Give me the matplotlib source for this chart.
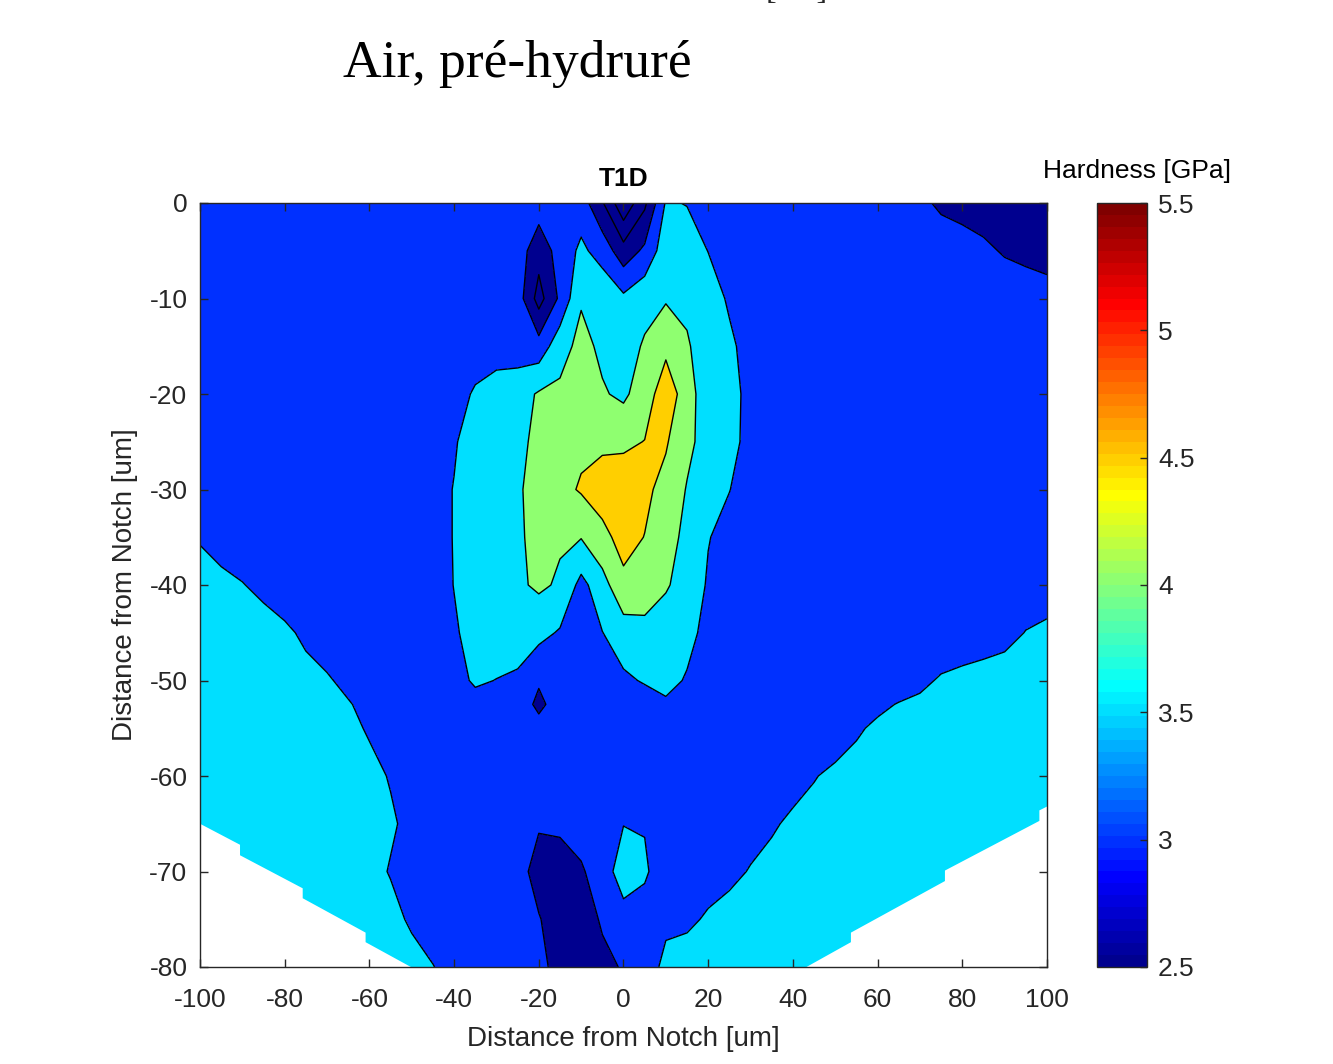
import numpy as np
import matplotlib
matplotlib.use("Agg")
import matplotlib.pyplot as plt
from matplotlib.colors import ListedColormap, Normalize
from matplotlib.patches import Polygon
import matplotlib.cm as cm

plt.rcParams['font.family'] = ['Liberation Sans', 'DejaVu Sans']
plt.rcParams['axes.unicode_minus'] = False

# ---------------- data (hardness map, GPa) ----------------
x_um = [-100, -95, -90, -85, -80, -75, -70, -65, -60, -55, -50, -45, -40, -35, -30, -25, -20,
        -15, -10, -5, 0, 5, 10, 15, 20, 25, 30, 35, 40, 45, 50, 55, 60, 65, 70, 75, 80, 85, 90, 95, 100]
y_um = [0, -5, -10, -15, -20, -25, -30, -35, -40, -45, -50, -52.5, -55, -60, -65, -70, -75, -80]

h_y0 = [3.25]*18 + [3.25, 2.55, 1.6, 2.4, 3.55, 3.48, 3.3] + [3.25]*9 + [3.1, 2.92, 2.85, 2.8, 2.75, 2.72, 2.7]
h_y5 = [3.25]*15 + [3.25, 2.7, 3.2, 3.6, 3.3, 2.7, 3.1, 3.8, 3.75, 3.49, 3.3] + [3.25]*10 + [3.18, 3.08, 2.96, 2.9, 2.85]
h_y10 = [3.25]*15 + [3.25, 2.3, 3.1, 3.95, 3.85, 3.6, 3.85, 3.95, 3.9, 3.75, 3.43, 3.25] + [3.25]*11 + [3.25, 3.2, 3.15]
h_y15 = [3.25]*14 + [3.3, 3.25, 3.2, 3.8, 4.15, 3.9, 3.8, 4.05, 4.4, 4.05, 3.75, 3.6, 3.3] + [3.25]*14
h_y20 = [3.25]*12 + [3.3, 3.56, 3.7, 3.8, 4.05, 4.1, 4.3, 4.05, 3.9, 4.28, 4.75, 4.29, 3.6, 3.62, 3.4] + [3.25]*14
h_y25 = [3.25]*11 + [3.25, 3.45, 3.75, 3.85, 3.9, 4.1, 4.25, 4.4, 4.42, 4.42, 4.51, 4.55, 4.12, 3.8, 3.6, 3.4] + [3.25]*14
h_y30 = [3.35, 3.3] + [3.25]*9 + [3.3, 3.52, 3.75, 3.85, 3.95, 4.15, 4.35, 4.55, 4.7, 4.75, 4.6, 4.35, 3.97, 3.7, 3.51, 3.3] + [3.25]*14
h_y35 = [3.48, 3.42, 3.36, 3.3] + [3.25]*7 + [3.3, 3.52, 3.7, 3.85, 3.95, 4.1, 4.05, 4.02, 4.38, 4.65, 4.49, 4.2, 3.87, 3.52, 3.35, 3.25] + [3.25]*14
h_y40 = [3.6, 3.55, 3.51, 3.44, 3.35, 3.3] + [3.25]*5 + [3.3, 3.51, 3.7, 3.85, 3.92, 4.08, 3.94, 3.35, 3.8, 4.4, 4.35, 4.05, 3.8, 3.45, 3.3, 3.25] + [3.25]*11 + [3.28, 3.33, 3.38]
h_y45 = [3.65, 3.63, 3.61, 3.6, 3.55, 3.45, 3.35, 3.3, 3.25, 3.25, 3.25,
         3.3, 3.45, 3.65, 3.75, 3.75, 3.65, 3.45, 3.2, 3.49, 3.75, 3.8, 3.75, 3.6, 3.4, 3.3] + [3.25]*10 + [3.32, 3.35, 3.4, 3.51, 3.55]
h_y50 = [3.75, 3.72, 3.7, 3.67, 3.62, 3.58, 3.53, 3.43, 3.35, 3.3, 3.25, 3.25, 3.35, 3.56, 3.49, 3.42, 3.05,
         3.3, 3.25, 3.3, 3.42, 3.54, 3.6, 3.47, 3.3, 3.25] + [3.25]*7 + [3.3, 3.42, 3.54, 3.58, 3.62, 3.65, 3.68, 3.7]
h_y52 = [3.8, 3.77, 3.74, 3.71, 3.67, 3.63, 3.58, 3.52, 3.42, 3.33, 3.27, 3.25, 3.28, 3.35, 3.3, 3.25, 2.9,
         3.2, 3.25, 3.25, 3.3, 3.3, 3.45, 3.35, 3.25, 3.25] + [3.25]*5 + [3.3, 3.42, 3.52, 3.57, 3.61, 3.65, 3.68, 3.71, 3.73, 3.75]
h_y55 = [3.85, 3.82, 3.79, 3.76, 3.72, 3.68, 3.63, 3.57, 3.47, 3.37, 3.3] + [3.25]*5 + [3.15] + [3.25]*13 + \
        [3.3, 3.45, 3.57, 3.62, 3.66, 3.7, 3.73, 3.76, 3.78, 3.8, 3.8]
h_y60 = [3.9, 3.88, 3.85, 3.82, 3.79, 3.75, 3.7, 3.65, 3.58, 3.48, 3.38, 3.3] + [3.25]*15 + \
        [3.3, 3.38, 3.48, 3.58, 3.64, 3.68, 3.72, 3.75, 3.78, 3.8, 3.82, 3.84, 3.85, 3.85]
h_y65 = [3.9, 3.9, 3.88, 3.85, 3.82, 3.78, 3.73, 3.67, 3.61, 3.54, 3.42, 3.33, 3.28, 3.25, 3.25, 3.2, 3.05,
         3.1, 3.25, 3.35, 3.49, 3.48, 3.35, 3.3, 3.3, 3.33, 3.38, 3.46, 3.56, 3.63, 3.68, 3.72, 3.75, 3.78,
         3.8, 3.82, 3.84, 3.86, 3.87, 3.88, 3.88]
h_y70 = [3.9, 3.9, 3.9, 3.88, 3.86, 3.82, 3.76, 3.68, 3.6, 3.48, 3.38, 3.3, 3.25, 3.25, 3.25, 3.2, 2.8,
         2.75, 2.93, 3.3, 3.7, 3.55, 3.3, 3.28, 3.33, 3.42, 3.52, 3.6, 3.66, 3.71, 3.75, 3.78, 3.8, 3.82,
         3.84, 3.85, 3.86, 3.87, 3.88, 3.88, 3.88]
h_y75 = [3.9, 3.9, 3.9, 3.9, 3.88, 3.85, 3.8, 3.76, 3.72, 3.6, 3.45, 3.35, 3.28, 3.25, 3.25, 3.2, 3.03,
         2.75, 2.7, 3.07, 3.35, 3.35, 3.42, 3.42, 3.55, 3.62, 3.68, 3.72, 3.75, 3.78, 3.8, 3.82, 3.83, 3.84,
         3.85, 3.86, 3.87, 3.88, 3.88, 3.88, 3.88]
h_y80 = [3.9]*10 + [3.62, 3.51, 3.38, 3.3, 3.25, 3.2, 3.12, 2.85, 2.75, 2.85, 3.05, 3.3, 3.6, 3.7, 3.75, 3.8] + [3.85]*15

hardness_rows = [h_y0, h_y5, h_y10, h_y15, h_y20, h_y25, h_y30, h_y35, h_y40, h_y45,
                 h_y50, h_y52, h_y55, h_y60, h_y65, h_y70, h_y75, h_y80]

# measured-area outline (outside is blank)
domain_x = [-100, 100, 100, 98.2, 98.2, 75.9, 75.9, 53.7, 53.7, 43.2, -50.2, -60.9, -60.9,
            -75.75, -75.75, -90.55, -90.55, -100]
domain_y = [0, 0, -63.2, -63.6, -64.7, -69.9, -71.0, -76.4, -77.4, -80, -80, -77.4, -76.4,
            -72.8, -71.76, -68.3, -67.2, -65]

levels = [1.5, 2.0, 2.5, 3.0, 3.5, 4.0, 4.5, 5.0]
line_levels = [2.0, 2.5, 3.0, 3.5, 4.0, 4.5]
cbar_ticks = [2.5, 3, 3.5, 4, 4.5, 5, 5.5]
cbar_ticklabels = ['2.5', '3', '3.5', '4', '4.5', '5', '5.5']
clim = (2.5, 5.5)

# ---------------- MATLAB-style jet(64) ----------------
m, n = 64, 16
u = np.r_[np.arange(1, n + 1) / n, np.ones(n - 1), np.arange(n, 0, -1) / n]
g = int(np.ceil(n / 2)) - (m % 4 == 1) + np.arange(1, len(u) + 1)
r = g + n
b = g - n
J = np.zeros((m, 3))
J[r[r <= m] - 1, 0] = u[r <= m]
J[g[g <= m] - 1, 1] = u[g <= m]
J[b[b >= 1] - 1, 2] = u[b >= 1]
jet64 = ListedColormap(J)

def level_color(v):
    idx = int(np.floor((v - clim[0]) / (clim[1] - clim[0]) * m))
    return J[min(max(idx, 0), m - 1)]

fill_colors = [level_color(v) for v in levels[:-1]]

# ---------------- figure ----------------
W, H = 1333, 1064
fig = plt.figure(figsize=(W / 100, H / 100), dpi=100)
ax = fig.add_axes([200 / W, 97 / H, 847 / W, 764 / H])
cax = fig.add_axes([1097 / W, 97 / H, 50 / W, 764 / H])

X = np.array(x_um, dtype=float)
Y = np.array(y_um, dtype=float)[::-1]
Z = np.array(hardness_rows, dtype=float)[::-1]

cf = ax.contourf(X, Y, Z, levels=levels, colors=fill_colors)
cl = ax.contour(X, Y, Z, levels=line_levels, colors='black', linewidths=1.0)

clip = Polygon(np.column_stack([domain_x, domain_y]), closed=True,
               transform=ax.transData, facecolor='none', edgecolor='none')
cf.set_clip_path(clip)
cl.set_clip_path(clip)

dark = '#262626'
ax.set_xlim(-100, 100)
ax.set_ylim(-80, 0)
ax.set_xticks(np.arange(-100, 101, 20))
ax.set_yticks(np.arange(-80, 1, 10))
ax.tick_params(direction='in', top=True, right=True, length=6, width=1.0,
               colors=dark, labelsize=19)
ax.tick_params(axis='x', pad=15)
ax.tick_params(axis='y', pad=9)
for s in ax.spines.values():
    s.set_color(dark)
    s.set_linewidth(1.0)

ax.set_xlabel('Distance from Notch [um]', fontsize=20, color=dark, labelpad=10)
ax.set_ylabel('Distance from Notch [um]', fontsize=20, color=dark, labelpad=8)
ax.set_title('T1D', fontsize=19, fontweight='bold', color='black', pad=12)

sm = cm.ScalarMappable(norm=Normalize(*clim), cmap=jet64)
cb = fig.colorbar(sm, cax=cax, ticks=cbar_ticks)
cb.ax.set_yticklabels(cbar_ticklabels)
cb.ax.tick_params(direction='in', length=5, width=1.0, colors=dark, labelsize=19, pad=8)
cb.outline.set_edgecolor(dark)
cb.outline.set_linewidth(1.0)

fig.text(1137 / W, 1 - 178 / H, 'Hardness [GPa]', ha='center', va='baseline',
         fontsize=19, color='black')
fig.text(343 / W, 1 - 77 / H, 'Air, pré-hydruré', ha='left', va='baseline',
         fontsize=38.5, family=['Liberation Serif', 'DejaVu Serif'], color='black')
fig.text(766 / W, 1 + 1 / H, '[um]', ha='left', va='baseline',
         fontsize=23, family=['Liberation Serif', 'DejaVu Serif'], color=dark)

fig.savefig('out.png', dpi=100)
